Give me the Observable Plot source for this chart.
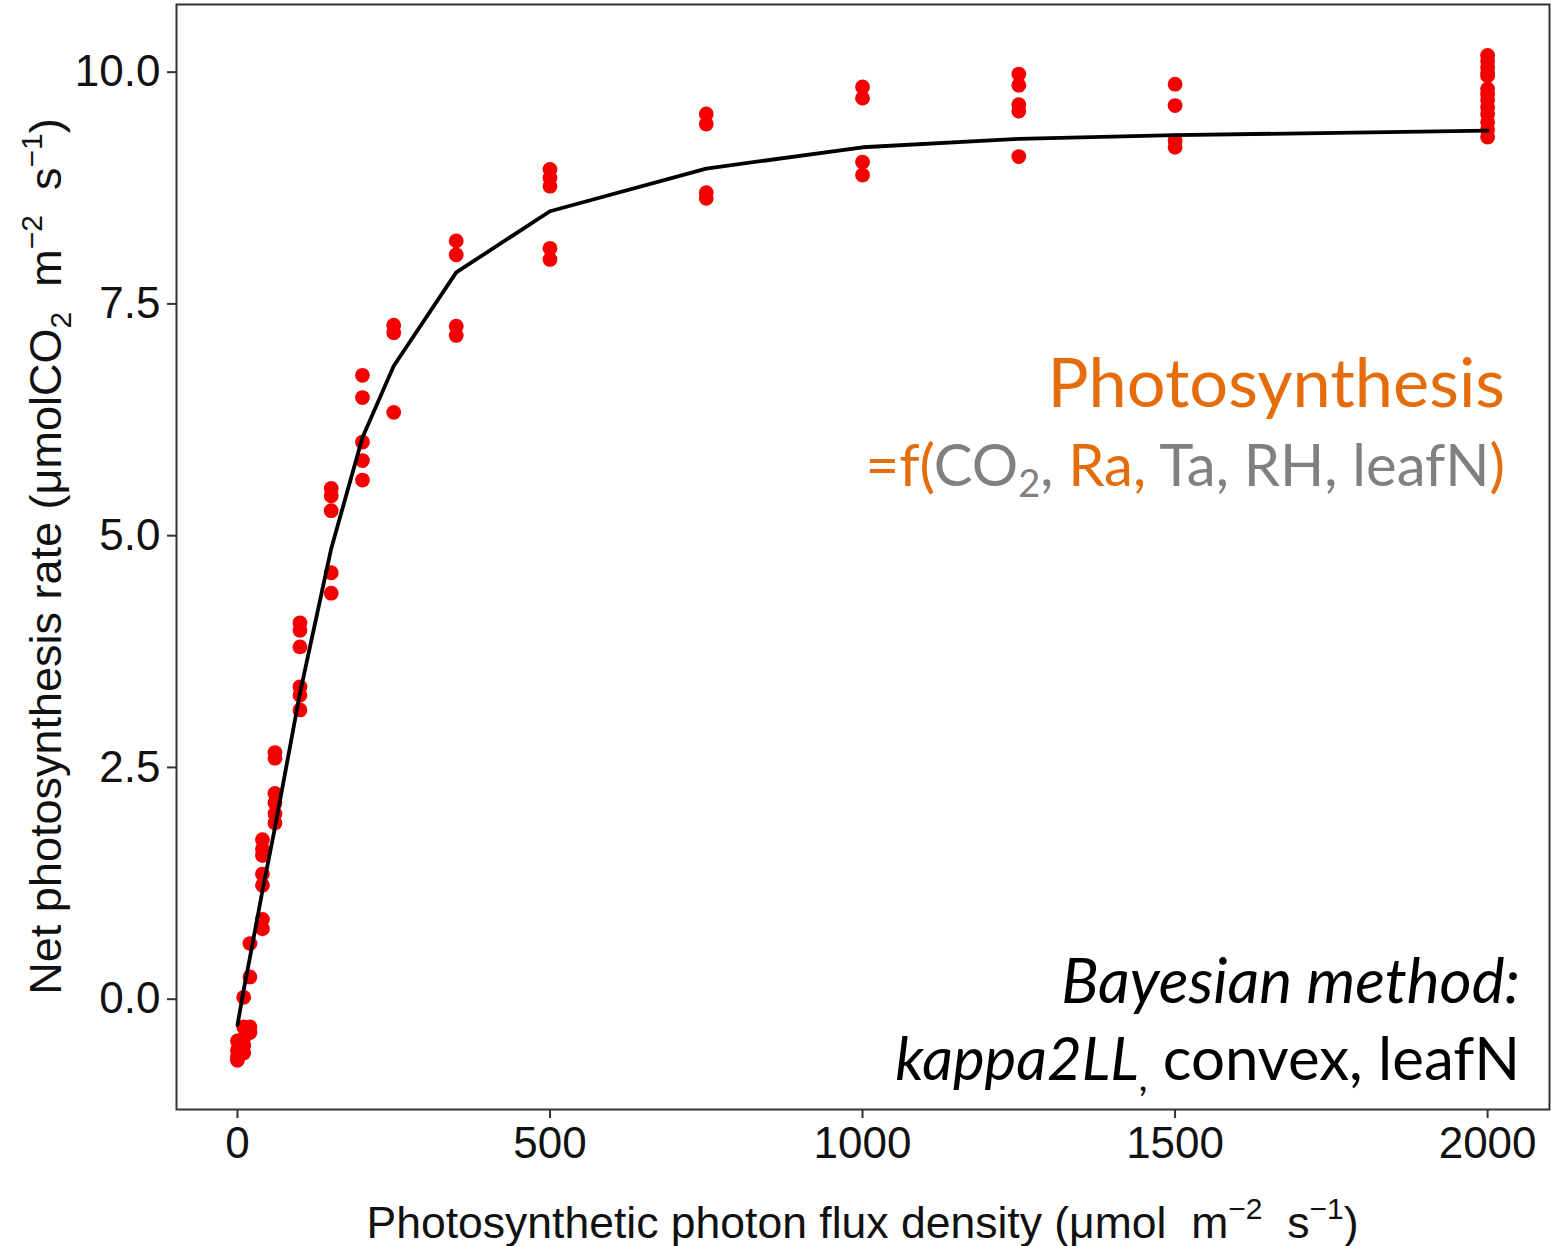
<!DOCTYPE html>
<html>
<head>
<meta charset="utf-8">
<script src="https://cdn.jsdelivr.net/npm/d3@7"></script>
<script src="https://cdn.jsdelivr.net/npm/@observablehq/plot@0.6"></script>
<style>
  html, body { margin: 0; padding: 0; background: #fff; }
  #chart svg { display: block; }
</style>
</head>
<body>
<div id="chart"></div>
<script>
// Observed net photosynthesis, grouped by PPFD level
const obsX = [
  0, 0, 0, 0,
  10, 10, 10, 10, 10,
  20, 20, 20, 20,
  40, 40, 40, 40, 40, 40, 40,
  60, 60, 60, 60, 60, 60,
  100, 100, 100, 100, 100, 100,
  150, 150, 150, 150, 150,
  200, 200, 200, 200, 200,
  250, 250, 250,
  350, 350, 350, 350,
  500, 500, 500, 500, 500,
  750, 750, 750, 750,
  1000, 1000, 1000, 1000,
  1250, 1250, 1250, 1250, 1250,
  1500, 1500, 1500, 1500,
  2000, 2000, 2000, 2000, 2000, 2000, 2000, 2000, 2000, 2000, 2000, 2000, 2000
];
const obsY = [
  -0.45, -0.55, -0.62, -0.66,
  0.02, -0.30, -0.42, -0.50, -0.58,
  0.60, 0.24, -0.30, -0.36,
  1.72, 1.62, 1.55, 1.35, 1.23, 0.86, 0.76,
  2.66, 2.60, 2.22, 2.12, 2.00, 1.90,
  4.06, 3.98, 3.80, 3.37, 3.28, 3.12,
  5.51, 5.43, 5.27, 4.60, 4.38,
  6.73, 6.49, 6.01, 5.81, 5.60,
  7.27, 7.19, 6.33,
  8.18, 8.03, 7.26, 7.16,
  8.95, 8.86, 8.77, 8.10, 7.98,
  9.55, 9.44, 8.70, 8.64,
  9.84, 9.72, 9.03, 8.89,
  9.98, 9.86, 9.65, 9.58, 9.09,
  9.87, 9.64, 9.26, 9.19,
  10.18, 10.12, 10.05, 9.99, 9.96, 9.82, 9.76, 9.70, 9.62, 9.55, 9.46, 9.38, 9.30
];
// Fitted curve (Bayesian, kappa2LL convex, leafN)
const fitX = [0, 10, 20, 40, 60, 100, 150, 200, 250, 350, 500, 750, 1000, 1250, 1500, 2000];
const fitY = [-0.28, 0.10, 0.45, 1.17, 1.85, 3.30, 4.86, 6.06, 6.83, 7.84, 8.50, 8.96, 9.19, 9.28, 9.32, 9.37];
// Axis ticks
const xTicks = [0, 500, 1000, 1500, 2000];
const yTicks = [0, 2.5, 5, 7.5, 10];

const obs = obsX.map((x, i) => ({x, y: obsY[i]}));
const fit = fitX.map((x, i) => ({x, y: fitY[i]}));

const W = 1551, H = 1246;
const mL = 176, mR = 2, mT = 4, mB = 137;

const plot = Plot.plot({
  width: W,
  height: H,
  marginLeft: mL,
  marginRight: mR,
  marginTop: mT,
  marginBottom: mB,
  style: {fontFamily: "'Liberation Sans', Arial, sans-serif", fontSize: "44px", color: "#111", background: "#fff"},
  x: {domain: [-97.5, 2099]},
  y: {domain: [-1.19, 10.73]},
  marks: [
    Plot.dot(obs, {x: "x", y: "y", r: 7.4, fill: "#f50000", stroke: "none"}),
    Plot.line(fit, {x: "x", y: "y", stroke: "#000", strokeWidth: 3.8}),
    Plot.frame({stroke: "#333", strokeWidth: 2}),
    Plot.axisX({ticks: xTicks, tickFormat: d => String(d), tickSize: 9, tickPadding: 8, label: null, stroke: "#333", strokeWidth: 2}),
    Plot.axisY({ticks: yTicks, tickFormat: d => d.toFixed(1), tickSize: 9, tickPadding: 7, label: null, stroke: "#333", strokeWidth: 2})
  ]
});

document.getElementById("chart").appendChild(plot);
const svg = d3.select(plot);

function addRich(g, parts) {
  for (const p of parts) {
    const t = g.append("tspan").text(p.t);
    if (p.fill) t.attr("fill", p.fill);
    if (p.style) t.attr("font-style", p.style);
    if (p.size) t.attr("font-size", p.size);
    if (p.dy) t.attr("dy", p.dy);
  }
}

// Axis titles
const axisFont = "'Liberation Sans', Arial, sans-serif";
const xt = svg.append("text")
  .attr("x", (mL + W - mR) / 2).attr("y", 1238)
  .attr("text-anchor", "middle")
  .attr("font-family", axisFont).attr("font-size", 44.5).attr("fill", "#111");
addRich(xt, [
  {t: "Photosynthetic photon flux density (μmol  m"},
  {t: "−2", size: 30, dy: -19},
  {t: "  s", dy: 19},
  {t: "−1", size: 30, dy: -19},
  {t: ")", dy: 19}
]);

const yt = svg.append("text")
  .attr("transform", `translate(61, ${(mT + H - mB) / 2}) rotate(-90)`)
  .attr("text-anchor", "middle")
  .attr("font-family", axisFont).attr("font-size", 45).attr("fill", "#111");
addRich(yt, [
  {t: "Net photosynthesis rate (μmolCO"},
  {t: "2", size: 30, dy: 10},
  {t: "  m", dy: -10},
  {t: "−2", size: 30, dy: -19},
  {t: "  s", dy: 19},
  {t: "−1", size: 30, dy: -19},
  {t: ")", dy: 19}
]);

// Annotations
const orange = "#e46c0a", grey = "#808080";
const annFont = "Lato, 'Open Sans', sans-serif";
svg.append("text")
  .attr("x", 1505).attr("y", 407)
  .attr("text-anchor", "end")
  .attr("font-family", annFont).attr("font-size", 68.5).attr("fill", orange)
  .text("Photosynthesis");

const f = svg.append("text")
  .attr("x", 1505).attr("y", 486)
  .attr("text-anchor", "end")
  .attr("font-family", annFont).attr("font-size", 58).attr("fill", grey);
addRich(f, [
  {t: "=f(", fill: orange},
  {t: "CO", fill: grey},
  {t: "2", fill: grey, size: 38, dy: 11},
  {t: ", ", fill: grey, dy: -11},
  {t: "Ra,", fill: orange},
  {t: " Ta, RH, leafN", fill: grey},
  {t: ")", fill: orange}
]);

svg.append("text")
  .attr("x", 1520).attr("y", 1003)
  .attr("text-anchor", "end")
  .attr("font-family", annFont).attr("font-size", 62).attr("font-style", "italic").attr("fill", "#000")
  .text("Bayesian method:");

const k = svg.append("text")
  .attr("x", 1520).attr("y", 1080)
  .attr("text-anchor", "end")
  .attr("font-family", annFont).attr("font-size", 60).attr("fill", "#000");
addRich(k, [
  {t: "kappa2LL", style: "italic"},
  {t: ",", size: 38, dy: 11},
  {t: " convex, leafN", dy: -11}
]);
</script>
</body>
</html>
